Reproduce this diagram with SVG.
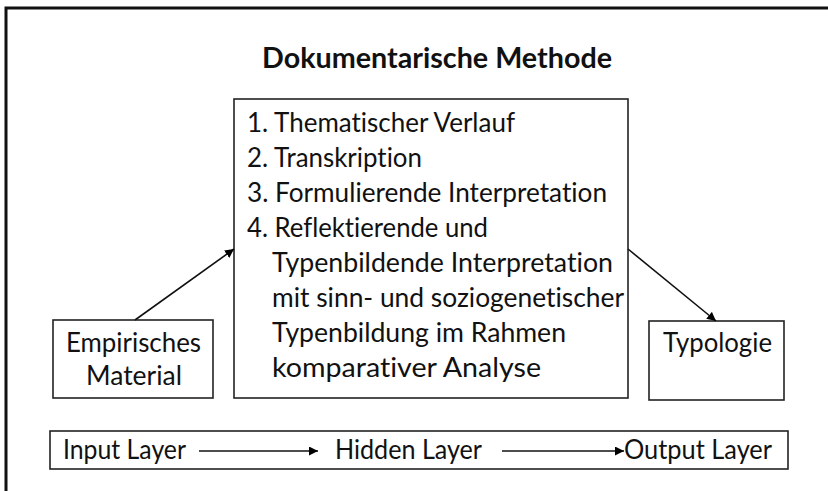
<svg xmlns="http://www.w3.org/2000/svg" width="828" height="491" viewBox="0 0 828 491">
<defs>
<marker id="ah" viewBox="0 0 10 10" refX="10" refY="5" markerWidth="9" markerHeight="9" markerUnits="userSpaceOnUse" orient="auto">
<path d="M0,0 L10,5 L0,10 z" fill="#000"/>
</marker>
</defs>
<style>
.box{fill:#fff;stroke:#222;stroke-width:1.6}
.t{font-family:Lato,"Open Sans","Liberation Sans",sans-serif;font-size:27px;fill:#111;font-variant-ligatures:none}
.title{font-family:Lato,"Open Sans","Liberation Sans",sans-serif;font-size:29px;font-weight:bold;fill:#111;font-variant-ligatures:none}
.c{stroke:#111;stroke-width:1.6;fill:none;marker-end:url(#ah)}
</style>
<rect width="828" height="491" fill="#fff"/>
<path d="M6,491 L6,8 L828,8" fill="none" stroke="#111" stroke-width="3"/>
<text class="title" x="262" y="68" textLength="350" lengthAdjust="spacingAndGlyphs">Dokumentarische Methode</text>
<g id="main">
<rect class="box" x="234" y="99" width="394" height="299"/>
<text class="t" x="247" y="132" textLength="268" lengthAdjust="spacingAndGlyphs">1. Thematischer Verlauf</text>
<text class="t" x="247" y="167" textLength="175" lengthAdjust="spacingAndGlyphs">2. Transkription</text>
<text class="t" x="247" y="202" textLength="360" lengthAdjust="spacingAndGlyphs">3. Formulierende Interpretation</text>
<text class="t" x="247" y="237" textLength="241" lengthAdjust="spacingAndGlyphs">4. Reflektierende und</text>
<text class="t" x="272" y="272" textLength="341" lengthAdjust="spacingAndGlyphs">Typenbildende Interpretation</text>
<text class="t" x="272" y="307" textLength="352" lengthAdjust="spacingAndGlyphs">mit sinn- und soziogenetischer</text>
<text class="t" x="272" y="342" textLength="294" lengthAdjust="spacingAndGlyphs">Typenbildung im Rahmen</text>
<text class="t" x="272" y="377" textLength="269" lengthAdjust="spacingAndGlyphs">komparativer Analyse</text>
</g>
<g id="empirisch">
<rect class="box" x="53" y="320" width="160" height="78"/>
<text class="t" x="66" y="352" textLength="135" lengthAdjust="spacingAndGlyphs">Empirisches</text>
<text class="t" x="86" y="385" textLength="96" lengthAdjust="spacingAndGlyphs">Material</text>
</g>
<g id="typologie">
<rect class="box" x="649" y="321" width="135" height="79"/>
<text class="t" x="663" y="352" textLength="109" lengthAdjust="spacingAndGlyphs">Typologie</text>
</g>
<g id="layers">
<rect class="box" x="50" y="431" width="738" height="38"/>
<text class="t" x="63" y="459" textLength="123" lengthAdjust="spacingAndGlyphs">Input Layer</text>
<text class="t" x="335" y="459" textLength="147" lengthAdjust="spacingAndGlyphs">Hidden Layer</text>
<text class="t" x="624" y="459" textLength="148" lengthAdjust="spacingAndGlyphs">Output Layer</text>
</g>
<g id="connectors">
<line class="c" x1="135" y1="320" x2="234" y2="249"/>
<line class="c" x1="628" y1="249" x2="716" y2="321"/>
<line class="c" x1="199" y1="451" x2="318" y2="451"/>
<line class="c" x1="502" y1="451" x2="624" y2="451"/>
</g>
</svg>
